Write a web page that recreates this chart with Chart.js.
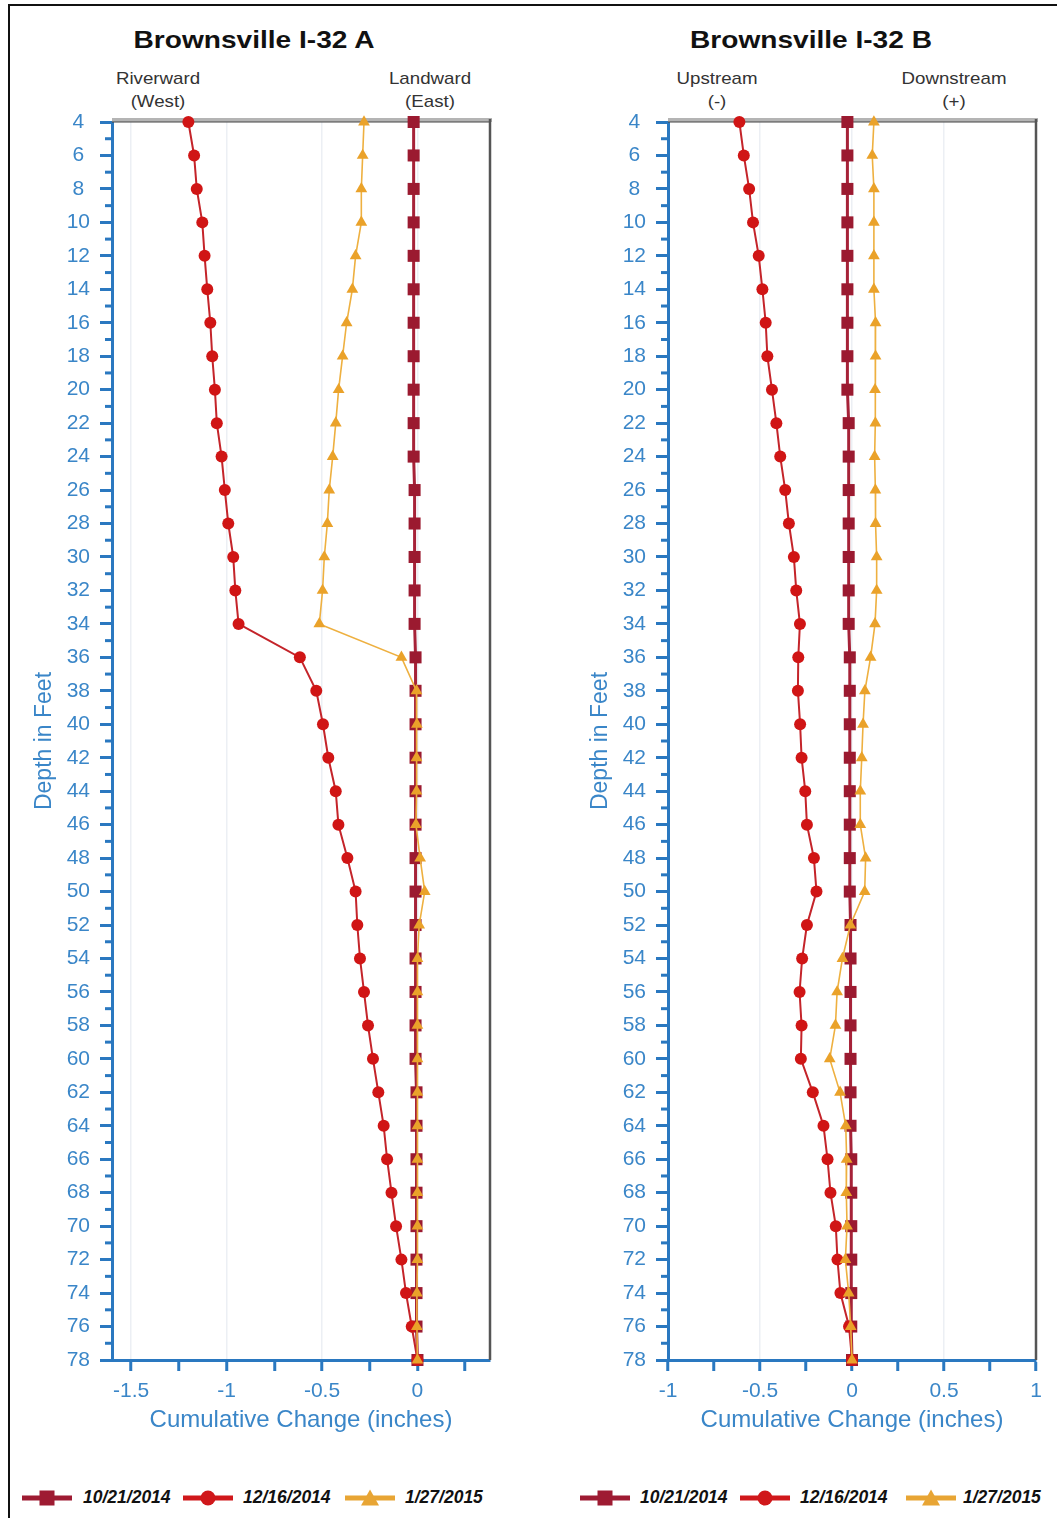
<!DOCTYPE html>
<html>
<head>
<meta charset="utf-8">
<script src="https://cdn.jsdelivr.net/npm/chart.js@4.4.1/dist/chart.umd.min.js"></script>
<style>
  html, body { margin: 0; padding: 0; background: #fff; }
  body { width: 1057px; height: 1518px; position: relative; overflow: hidden; font-family: "Liberation Sans", Arial, sans-serif; }
  .frame { position: absolute; left: 8px; top: 4px; width: 1200px; height: 1600px; border-left: 2px solid #111; border-top: 2px solid #111; }
  .ttl { position: absolute; font-weight: bold; font-size: 24px; line-height: 30px; color: #111; white-space: nowrap; transform: translateX(-50%) scaleX(1.17); }
  .sub { position: absolute; font-size: 17px; line-height: 23px; color: #333; text-align: center; white-space: nowrap; transform: translateX(-50%) scaleX(1.1); }
  .lg { position: absolute; font-weight: bold; font-style: italic; font-size: 17.5px; line-height: 20px; color: #111; white-space: nowrap; }
  .lgs { position: absolute; }
  canvas { position: absolute; top: 0; }
</style>
</head>
<body>
<div class="frame"></div>
<div class="ttl" style="left:254px; top:25px;">Brownsville I-32 A</div>
<div class="ttl" style="left:811px; top:25px;">Brownsville I-32 B</div>
<div class="sub" style="left:158px; top:67px;">Riverward<br>(West)</div>
<div class="sub" style="left:430px; top:67px;">Landward<br>(East)</div>
<div class="sub" style="left:717px; top:67px;">Upstream<br>(-)</div>
<div class="sub" style="left:954px; top:67px;">Downstream<br>(+)</div>
<canvas id="cA" width="530" height="1470" style="left:0px;"></canvas>
<canvas id="cB" width="501" height="1470" style="left:556px;"></canvas>
<div id="legend"></div>
<script>
// ---------------- data ----------------
const depths = [4,6,8,10,12,14,16,18,20,22,24,26,28,30,32,34,36,38,40,42,44,46,48,50,52,54,56,58,60,62,64,66,68,70,72,74,76,78];
const seriesNames = ['10/21/2014', '12/16/2014', '1/27/2015'];

// Brownsville I-32 A (cumulative change, inches)
const aOct = [-0.02,-0.02,-0.02,-0.02,-0.02,-0.02,-0.02,-0.02,-0.02,-0.02,-0.02,-0.015,-0.015,-0.015,-0.015,-0.015,-0.01,-0.01,-0.01,-0.01,-0.01,-0.01,-0.01,-0.01,-0.01,-0.01,-0.01,-0.01,-0.01,-0.005,-0.005,-0.005,-0.005,-0.005,-0.005,-0.005,-0.005,0];
const aDec = [-1.20,-1.17,-1.156,-1.127,-1.115,-1.101,-1.085,-1.075,-1.061,-1.051,-1.026,-1.009,-0.991,-0.965,-0.954,-0.937,-0.616,-0.530,-0.495,-0.467,-0.428,-0.414,-0.367,-0.324,-0.315,-0.301,-0.280,-0.259,-0.233,-0.205,-0.177,-0.159,-0.136,-0.112,-0.084,-0.060,-0.030,0];
const aJan = [-0.28,-0.287,-0.294,-0.294,-0.324,-0.341,-0.371,-0.392,-0.413,-0.428,-0.444,-0.462,-0.472,-0.488,-0.497,-0.514,-0.084,-0.005,-0.003,-0.005,-0.005,-0.008,0.014,0.038,0.009,0,0,0,0,0,0,0,0,0,0,-0.003,-0.003,0];

// Brownsville I-32 B (cumulative change, inches)
const bOct = [-0.025,-0.025,-0.025,-0.025,-0.025,-0.025,-0.025,-0.025,-0.025,-0.018,-0.018,-0.018,-0.018,-0.018,-0.018,-0.018,-0.012,-0.012,-0.012,-0.012,-0.012,-0.012,-0.012,-0.012,-0.008,-0.008,-0.008,-0.008,-0.008,-0.008,-0.008,-0.004,-0.004,-0.004,-0.004,-0.004,-0.004,0];
const bDec = [-0.612,-0.588,-0.559,-0.538,-0.507,-0.487,-0.469,-0.460,-0.435,-0.411,-0.390,-0.363,-0.343,-0.316,-0.303,-0.283,-0.292,-0.294,-0.282,-0.274,-0.254,-0.245,-0.207,-0.193,-0.245,-0.271,-0.285,-0.274,-0.278,-0.213,-0.155,-0.133,-0.117,-0.088,-0.079,-0.063,-0.016,0];
const bJan = [0.119,0.110,0.119,0.119,0.119,0.119,0.128,0.128,0.125,0.127,0.123,0.127,0.128,0.134,0.134,0.125,0.101,0.070,0.060,0.053,0.045,0.045,0.074,0.069,-0.009,-0.052,-0.081,-0.090,-0.121,-0.065,-0.034,-0.029,-0.031,-0.027,-0.036,-0.018,-0.007,0];

// tick values / labels
const xTicksA  = [-1.5,-1.25,-1,-0.75,-0.5,-0.25,0,0.25];
const xLabelsA = ['-1.5','','-1','','-0.5','','0',''];
const xTicksB  = [-1,-0.75,-0.5,-0.25,0,0.25,0.5,0.75,1];
const xLabelsB = ['-1','','-0.5','','0','','0.5','','1'];
const yMajorTicks = [4,6,8,10,12,14,16,18,20,22,24,26,28,30,32,34,36,38,40,42,44,46,48,50,52,54,56,58,60,62,64,66,68,70,72,74,76,78];
const yMinorTicks = [5,7,9,11,13,15,17,19,21,23,25,27,29,31,33,35,37,39,41,43,45,47,49,51,53,55,57,59,61,63,65,67,69,71,73,75,77];

// ---------------- styles ----------------
const FONT = '"Liberation Sans", Arial, sans-serif';
const AXIS_BLUE = '#2a78c0';
const TEXT_BLUE = '#3a86c8';
const GRID = '#eceff4';
const styles = [
  { marker: '#9b1a30', line: '#a62238', style: 'rect',     radius: 8.5, width: 3,   order: 2 },
  { marker: '#d01515', line: '#c4242a', style: 'circle',   radius: 6,   width: 2,   order: 1 },
  { marker: '#eaa22a', line: '#eeb040', style: 'triangle', radius: 6.8, width: 1.6, order: 0 }
];

const borderPlugin = {
  id: 'borderPlugin',
  beforeDatasetsDraw(chart) {
    const { ctx, chartArea: a, scales } = chart;
    ctx.save();
    // top border (gray band)
    ctx.strokeStyle = '#b4b4b4'; ctx.lineWidth = 4;
    ctx.beginPath(); ctx.moveTo(a.left, a.top - 2); ctx.lineTo(a.right + 2, a.top - 2); ctx.stroke();
    ctx.strokeStyle = '#444'; ctx.lineWidth = 1.2;
    ctx.beginPath(); ctx.moveTo(a.left, a.top); ctx.lineTo(a.right, a.top); ctx.stroke();
    // right border
    ctx.strokeStyle = '#555'; ctx.lineWidth = 2.5;
    ctx.beginPath(); ctx.moveTo(a.right, a.top - 3); ctx.lineTo(a.right, a.bottom); ctx.stroke();
    // minor y ticks
    ctx.strokeStyle = AXIS_BLUE; ctx.lineWidth = 3;
    yMinorTicks.forEach(v => {
      const p = scales.y.getPixelForValue(v);
      ctx.beginPath(); ctx.moveTo(a.left - 7, p); ctx.lineTo(a.left, p); ctx.stroke();
    });
    ctx.restore();
  }
};

function makeDataset(i, vals) {
  const s = styles[i];
  return {
    label: seriesNames[i],
    data: depths.map((d, k) => ({ x: vals[k], y: d })),
    showLine: true,
    borderColor: s.line,
    borderWidth: s.width,
    pointStyle: s.style,
    pointRadius: s.radius,
    pointHoverRadius: s.radius,
    pointBackgroundColor: s.marker,
    pointBorderColor: s.marker,
    pointBorderWidth: 0,
    tension: 0,
    order: s.order,
    clip: false
  };
}

function makeChart(id, xMin, xMax, xTicks, xLabels, rightPad, series) {
  return new Chart(document.getElementById(id), {
    type: 'scatter',
    data: { datasets: series.map((v, i) => makeDataset(i, v)) },
    options: {
      responsive: false,
      animation: false,
      events: [],
      layout: { padding: { left: 0, top: 122, right: rightPad, bottom: 0 } },
      plugins: { legend: { display: false }, tooltip: { enabled: false }, title: { display: false } },
      scales: {
        x: {
          type: 'linear', min: xMin, max: xMax,
          afterBuildTicks: s => { s.ticks = xTicks.map(v => ({ value: v })); },
          afterFit: s => { s.height = 110; },
          ticks: {
            autoSkip: false, maxRotation: 0, padding: 8, color: TEXT_BLUE,
            font: { family: FONT, size: 21 },
            callback: v => { const k = xTicks.indexOf(v); return k >= 0 ? xLabels[k] : ''; }
          },
          grid: {
            color: c => (c.tick && Math.abs(c.tick.value * 2 - Math.round(c.tick.value * 2)) < 1e-9) ? GRID : 'rgba(0,0,0,0)',
            lineWidth: 1.5, tickColor: AXIS_BLUE, tickWidth: 3, tickLength: 11
          },
          border: { display: true, color: AXIS_BLUE, width: 3 },
          title: {
            display: true, text: 'Cumulative Change (inches)', color: TEXT_BLUE,
            font: { family: FONT, size: 24 }, padding: { top: 0, bottom: 35 }
          }
        },
        y: {
          type: 'linear', reverse: true, min: 4, max: 78,
          afterBuildTicks: s => { s.ticks = yMajorTicks.map(v => ({ value: v })); },
          afterFit: s => { s.width = 112; },
          ticks: {
            autoSkip: false, padding: 10, crossAlign: 'center', color: TEXT_BLUE,
            font: { family: FONT, size: 21 },
            callback: v => String(v)
          },
          grid: { color: 'rgba(0,0,0,0)', tickColor: AXIS_BLUE, tickWidth: 3, tickLength: 12 },
          border: { display: true, color: AXIS_BLUE, width: 3 },
          title: {
            display: true, text: 'Depth in Feet', color: TEXT_BLUE,
            font: { family: FONT, size: 23 }, padding: { top: 31, bottom: 0 }
          }
        }
      }
    },
    plugins: [borderPlugin]
  });
}

makeChart('cA', -1.6, 0.38, xTicksA, xLabelsA, 40, [aOct, aDec, aJan]);
makeChart('cB', -1, 1, xTicksB, xLabelsB, 21, [bOct, bDec, bJan]);

// ---------------- legend (HTML) ----------------
const legendSlots = [
  { sym: 22, txt: 83 }, { sym: 183, txt: 243 }, { sym: 345, txt: 405 },
  { sym: 580, txt: 640 }, { sym: 740, txt: 800 }, { sym: 906, txt: 963 }
];
const legendColors = ['#9e1b32', '#d0181b', '#e8a534'];
function symbolSVG(i) {
  const c = legendColors[i];
  let m = '';
  if (i === 0) m = `<rect x="17.5" y="3.5" width="15" height="15" fill="${c}"/>`;
  else if (i === 1) m = `<circle cx="25" cy="11" r="7.5" fill="${c}"/>`;
  else m = `<polygon points="16,18.5 34,18.5 25,2.5" fill="${c}"/>`;
  return `<svg width="50" height="22" xmlns="http://www.w3.org/2000/svg"><line x1="0" y1="11" x2="50" y2="11" stroke="${c}" stroke-width="5"/>${m}</svg>`;
}
const lg = document.getElementById('legend');
legendSlots.forEach((slot, k) => {
  const i = k % 3;
  const s = document.createElement('div');
  s.className = 'lgs';
  s.style.left = slot.sym + 'px'; s.style.top = '1487px';
  s.innerHTML = symbolSVG(i);
  lg.appendChild(s);
  const t = document.createElement('div');
  t.className = 'lg';
  t.style.left = slot.txt + 'px'; t.style.top = '1487px';
  t.textContent = seriesNames[i];
  lg.appendChild(t);
});
</script>
</body>
</html>
